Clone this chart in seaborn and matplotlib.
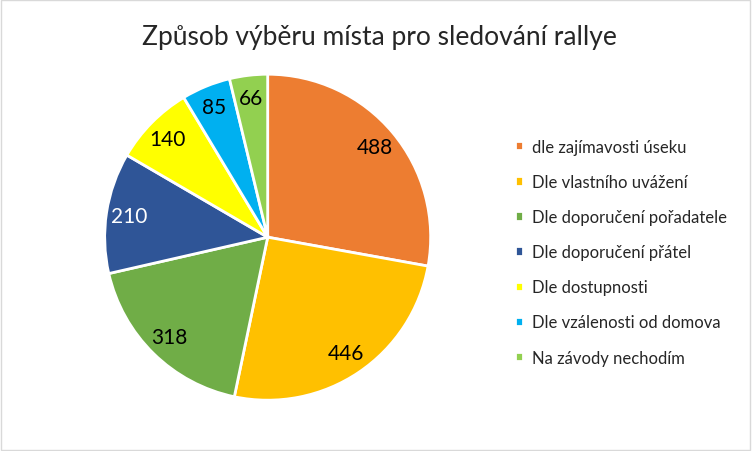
import matplotlib
matplotlib.use("Agg")
import matplotlib.pyplot as plt
import seaborn as sns
from matplotlib.patches import Rectangle

kategorie = ["dle zajímavosti úseku", "Dle vlastního uvážení", "Dle doporučení pořadatele",
             "Dle doporučení přátel", "Dle dostupnosti", "Dle vzálenosti od domova",
             "Na závody nechodím"]
hodnoty = [488, 446, 318, 210, 140, 85, 66]
barvy = ["#ed7d31", "#ffc000", "#70ad47", "#2f5597", "#ffff00", "#00b0f0", "#92d050"]
barvy_popisku = ["black", "black", "black", "white", "black", "black", "black"]

sns.set_theme(style="white")
plt.rcParams['font.family'] = ['Lato', 'DejaVu Sans']

fig = plt.figure(figsize=(7.52, 4.52), dpi=100)
ax = fig.add_axes([0.356 - 0.2168, 0.473 - 0.3606, 0.4335, 0.7212])

wedges, texty = ax.pie(hodnoty, colors=barvy, startangle=90, counterclock=False,
                       labels=[str(h) for h in hodnoty], labeldistance=0.86,
                       wedgeprops=dict(edgecolor="white", linewidth=2))
for t, c in zip(texty, barvy_popisku):
    t.set_color(c)
    t.set_fontsize(15)
    t.set_ha("center")
    t.set_va("center")
ax.set_xlim(-1, 1)
ax.set_ylim(-1, 1)
ax.set_aspect("equal")

fig.text(0.505, 0.918, "Způsob výběru místa pro sledování rallye", ha="center", va="center",
         fontsize=19, color="#262626")

fig.legend(wedges, kategorie, loc="center left", bbox_to_anchor=(0.665, 0.44),
           frameon=False, fontsize=12, handlelength=0.5, handleheight=0.5,
           handletextpad=0.5, labelspacing=1.15, labelcolor="#262626")

fig.patches.append(Rectangle((0.001, 0.002), 0.997, 0.995, transform=fig.transFigure,
                             fill=False, edgecolor="#d9d9d9", linewidth=1))

fig.savefig("out.png", dpi=100)
